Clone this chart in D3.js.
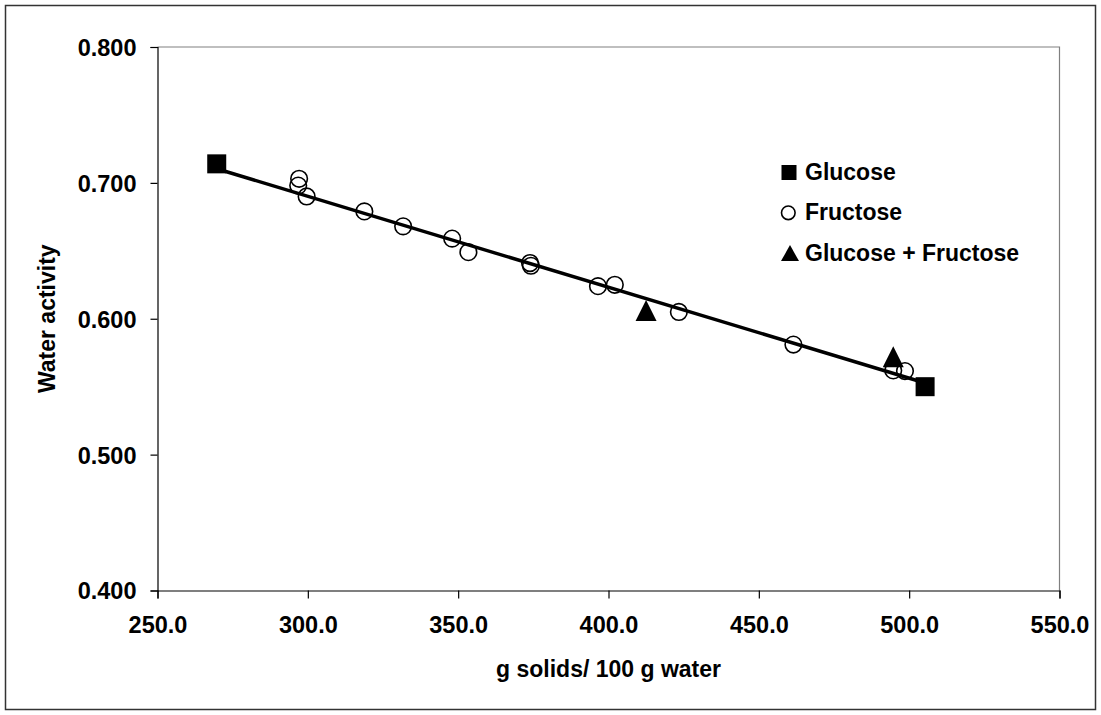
<!DOCTYPE html>
<html>
<head>
<meta charset="utf-8">
<script src="https://cdn.jsdelivr.net/npm/d3@7"></script>
<style>
  html, body { margin: 0; padding: 0; background: #fff; }
  svg text { font-family: "Liberation Sans", Arial, sans-serif; font-weight: bold; fill: #000; }
</style>
</head>
<body>
<script>
// ---- data ----
const xTicks = [250, 300, 350, 400, 450, 500, 550];
const yTicks = [0.4, 0.5, 0.6, 0.7, 0.8];
const xTitle = "g solids/ 100 g water";
const yTitle = "Water activity";
const seriesNames = ["Glucose", "Fructose", "Glucose + Fructose"];

const glucoseX = [269.7, 505.3];
const glucoseY = [0.714, 0.550];

const fructoseX = [297.1, 296.8, 299.6, 318.8, 331.7, 348.0, 353.4, 373.9, 374.2, 396.5, 402.1, 423.4, 461.5, 494.7, 498.6];
const fructoseY = [0.703, 0.698, 0.690, 0.679, 0.668, 0.659, 0.649, 0.641, 0.639, 0.624, 0.625, 0.605, 0.581, 0.562, 0.5615];

const mixX = [412.5, 494.7];
const mixY = [0.606, 0.572];

const trendX = [269.7, 505.3];
const trendY = [0.7104, 0.5527];

// ---- layout ----
const W = 1101, H = 715;
const plot = { left: 157.5, right: 1059.5, top: 47, bottom: 590.5 };
const tickFont = "23.5px", textFont = "23px";

const svg = d3.select("body").append("svg")
  .attr("width", W).attr("height", H);

// outer frame
svg.append("rect")
  .attr("x", 5.5).attr("y", 5.5).attr("width", 1090).attr("height", 704)
  .attr("fill", "#fff").attr("stroke", "#333").attr("stroke-width", 1.5);

const x = d3.scaleLinear().domain([250, 550]).range([plot.left, plot.right]);
const y = d3.scaleLinear().domain([0.4, 0.8]).range([plot.bottom, plot.top]);

// plot area border (top/right gray)
svg.append("path")
  .attr("d", `M${plot.left},${plot.top}H${plot.right}V${plot.bottom}`)
  .attr("fill", "none").attr("stroke", "#808080").attr("stroke-width", 1.2);

// axes
const xAxis = d3.axisBottom(x).tickValues(xTicks).tickFormat(d3.format(".1f")).tickSizeOuter(0).tickSize(8).tickPadding(18);
const gx = svg.append("g").attr("transform", `translate(0,${plot.bottom})`).call(xAxis);
const yAxis = d3.axisLeft(y).tickValues(yTicks).tickFormat(d3.format(".3f")).tickSizeOuter(0).tickSize(7).tickPadding(14);
const gy = svg.append("g").attr("transform", `translate(${plot.left},0)`).call(yAxis);

[gx, gy].forEach(g => {
  g.select(".domain").attr("stroke", "#000").attr("stroke-width", 1.2);
  g.selectAll(".tick line").attr("stroke", "#000").attr("stroke-width", 1.2);
  g.selectAll(".tick text").style("font-size", tickFont).style("font-family", '"Liberation Sans", Arial, sans-serif').style("font-weight", "bold").attr("fill", "#000");
});
gx.selectAll(".tick text").attr("dy", "0.71em");
gy.selectAll(".tick text").attr("dy", "0.36em");

// titles
svg.append("text").attr("x", (plot.left + plot.right) / 2).attr("y", 677)
  .attr("text-anchor", "middle").style("font-size", textFont).text(xTitle);
svg.append("text")
  .attr("transform", `translate(55,${(plot.top + plot.bottom) / 2}) rotate(-90)`)
  .attr("text-anchor", "middle").style("font-size", textFont).text(yTitle);

// trendline
svg.append("line")
  .attr("x1", x(trendX[0])).attr("y1", y(trendY[0]))
  .attr("x2", x(trendX[1])).attr("y2", y(trendY[1]))
  .attr("stroke", "#000").attr("stroke-width", 3.5);

// markers
const triPath = (cx, cy, w, h) => `M${cx},${cy - h / 2}L${cx + w / 2},${cy + h / 2}L${cx - w / 2},${cy + h / 2}Z`;

const fructose = fructoseX.map((v, i) => ({ x: v, y: fructoseY[i] }));
svg.append("g").selectAll("circle").data(fructose).join("circle")
  .attr("cx", d => x(d.x)).attr("cy", d => y(d.y)).attr("r", 8.3)
  .attr("fill", "none").attr("stroke", "#000").attr("stroke-width", 1.6);

const glucose = glucoseX.map((v, i) => ({ x: v, y: glucoseY[i] }));
const sq = 19;
svg.append("g").selectAll("rect").data(glucose).join("rect")
  .attr("x", d => x(d.x) - sq / 2).attr("y", d => y(d.y) - sq / 2)
  .attr("width", sq).attr("height", sq).attr("fill", "#000");

const mix = mixX.map((v, i) => ({ x: v, y: mixY[i] }));
svg.append("g").selectAll("path").data(mix).join("path")
  .attr("d", d => triPath(x(d.x), y(d.y), 21, 21)).attr("fill", "#000");

// legend
const leg = svg.append("g");
const legX = 789, legY0 = 172.5, legDy = 40.3;
leg.append("rect").attr("x", legX - 7.5).attr("y", legY0 - 7.5).attr("width", 15).attr("height", 15).attr("fill", "#000");
leg.append("circle").attr("cx", legX - 0.7).attr("cy", legY0 + legDy).attr("r", 6.8)
  .attr("fill", "none").attr("stroke", "#000").attr("stroke-width", 1.6);
leg.append("path").attr("d", triPath(legX + 1, legY0 + 2 * legDy, 18, 16)).attr("fill", "#000");
seriesNames.forEach((n, i) => {
  leg.append("text").attr("x", 805).attr("y", legY0 + i * legDy + 7.5)
    .style("font-size", textFont).text(n);
});
</script>
</body>
</html>
